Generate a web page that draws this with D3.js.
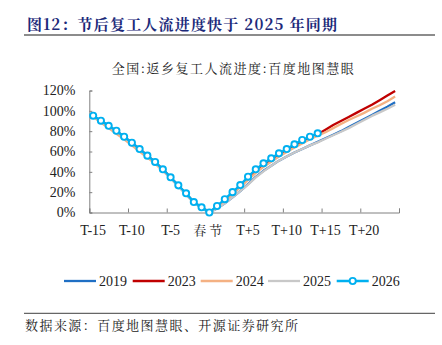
<!DOCTYPE html>
<html>
<head>
<meta charset="utf-8">
<script src="https://cdn.jsdelivr.net/npm/d3@7/dist/d3.min.js"></script>
<style>
html,body{margin:0;padding:0;background:#fff;}
svg{display:block;}
</style>
</head>
<body>
<svg id="chart" width="442" height="345"></svg>
<script>
// ---------- data ----------
const days = d3.range(-15, 25);              // T-15 ... T+24
const xTickDays = [-15, -10, -5, 0, 5, 10, 15, 20];
const xTickLabels = ["T-15", "T-10", "T-5", "春节", "T+5", "T+10", "T+15", "T+20"];
const yTicks = [0, 20, 40, 60, 80, 100, 120];
const seriesNames = ["2019", "2023", "2024", "2025", "2026"];

const s2019 = [95,90,85,79.5,74,68,62,55.5,49,42,34,26,18,10,4.5, 0,
  4,9,15,21,28,35,41,46,51,55,59,62.5,66,69.5,73,76.5,80,84,88,92,96,100,104,108.5];
const s2023 = [95,90,85,80,74.5,68.5,62.5,56,49.5,42.5,34.5,26.5,18.5,10,5, 0,
  5.5,12,19,26,33,40,46,51,56,60.5,65,69,73,77,81.5,86,90,94,98,102,106,110.5,115,119.5];
const s2024 = [94,88.5,83,77.5,72,66,60,54,48,41,34,26,18.5,10.5,5, 0,
  5,11,18,25,32,39,45,50,55,59.5,64,68,72,75.5,79,83,87,91,94.5,98,102,105.5,109.5,114];
const s2025 = [95,90,85,80,74,68,62,55.5,49,41.5,33.5,25.5,17.5,9.5,4.5, 0,
  4,9,15,21,27.5,34.5,40.5,46,51,55,59,62.5,66,69,72.5,76,79.5,83,87,91,95,98.5,102,106];
const s2026 = [95.2,90.3,85.3,80.4,74.5,68.6,62.4,55.9,49.7,42.5,34.6,26.7,18.9,10.3,5.1, 0,
  6.4,13.1,20,27,35.2,42.5,48.4,53.3,58.2,62.4,67.1,71.3,74.5,77.9];

const colors = {"2019":"#1f6fc4","2023":"#c00000","2024":"#f4b183","2025":"#c8c8c8","2026":"#00b0f0"};
const seriesData = {"2019":s2019,"2023":s2023,"2024":s2024,"2025":s2025,"2026":s2026};

// ---------- layout ----------
const svg = d3.select("#chart");
const serif = "'Liberation Serif','Times New Roman',serif";
const cjk = "'Noto Serif CJK SC','Noto Sans CJK SC',sans-serif";

const x = d3.scaleLinear().domain([-15.5, 24.5]).range([89.3, 399]);
const y = d3.scaleLinear().domain([0, 120]).range([212.5, 90.5]);

// title
svg.append("text")
  .attr("x", 27).attr("y", 30)
  .attr("textLength", 310).attr("lengthAdjust", "spacing")
  .attr("font-family", cjk).attr("font-weight", "bold")
  .attr("font-size", 15).attr("fill", "#1c2a7a")
  .text("图12：节后复工人流进度快于 2025 年同期");
svg.append("line").attr("x1", 24).attr("x2", 435).attr("y1", 35).attr("y2", 35)
  .attr("stroke", "#666").attr("stroke-width", 1.5);

// subtitle
svg.append("text")
  .attr("x", 111.7).attr("y", 73)
  .attr("textLength", 242).attr("lengthAdjust", "spacing")
  .attr("font-family", cjk).attr("font-size", 13).attr("fill", "#222")
  .text("全国:返乡复工人流进度:百度地图慧眼");

// y axis
const yAxis = svg.append("g").attr("transform", `translate(${x(-15.5)},0)`)
  .call(d3.axisLeft(y).tickValues(yTicks).tickSize(-3).tickPadding(14)
        .tickFormat(d => d + "%"));
yAxis.select(".domain").attr("stroke", "#808080");
yAxis.selectAll(".tick line").attr("stroke", "#808080");
yAxis.selectAll("text").attr("font-family", serif).attr("font-size", 14).attr("fill", "#222");

// x axis (ticks between categories, every 5 days)
const xBoundaries = d3.range(-15.5, 25, 5);
const xAxis = svg.append("g").attr("transform", `translate(0,${y(0)})`)
  .call(d3.axisBottom(x).tickValues(xBoundaries).tickSize(-4).tickFormat(""));
xAxis.select(".domain").attr("stroke", "#808080");
xAxis.selectAll(".tick line").attr("stroke", "#808080");

svg.append("g").selectAll("text").data(xTickDays).join("text")
  .attr("x", d => x(d)).attr("y", 235)
  .attr("text-anchor", "middle")
  .attr("font-family", (d, i) => xTickLabels[i] === "春节" ? cjk : serif)
  .attr("font-size", (d, i) => xTickLabels[i] === "春节" ? 13 : 14)
  .attr("letter-spacing", (d, i) => xTickLabels[i] === "春节" ? 3 : 0)
  .attr("fill", "#222")
  .text((d, i) => xTickLabels[i]);

// lines
const line = d3.line().x(d => x(d[0])).y(d => y(d[1]));
seriesNames.forEach(name => {
  const vals = seriesData[name];
  const pts = vals.map((v, i) => [days[i], v]);
  svg.append("path").datum(pts)
    .attr("fill", "none").attr("stroke", colors[name])
    .attr("stroke-width", 2.3).attr("stroke-linejoin", "round")
    .attr("d", line);
});
// markers for 2026
svg.append("g").selectAll("circle")
  .data(s2026.map((v, i) => [days[i], v])).join("circle")
  .attr("cx", d => x(d[0])).attr("cy", d => y(d[1])).attr("r", 3.1)
  .attr("fill", "#fff").attr("stroke", colors["2026"]).attr("stroke-width", 1.9);

// legend
const legendX = [64, 132.7, 200.7, 268, 336.7];
const lg = svg.append("g");
seriesNames.forEach((name, i) => {
  const lx = legendX[i];
  lg.append("line").attr("x1", lx).attr("x2", lx + 32).attr("y1", 281).attr("y2", 281)
    .attr("stroke", colors[name]).attr("stroke-width", 2.3);
  if (name === "2026") {
    lg.append("circle").attr("cx", lx + 16).attr("cy", 281).attr("r", 3.1)
      .attr("fill", "#fff").attr("stroke", colors[name]).attr("stroke-width", 1.9);
  }
  lg.append("text").attr("x", lx + 35).attr("y", 286)
    .attr("font-family", serif).attr("font-size", 14).attr("fill", "#222")
    .text(name);
});

// footer
svg.append("line").attr("x1", 24).attr("x2", 435).attr("y1", 313.3).attr("y2", 313.3)
  .attr("stroke", "#666").attr("stroke-width", 1.2);
svg.append("text")
  .attr("x", 25).attr("y", 330)
  .attr("textLength", 273).attr("lengthAdjust", "spacing")
  .attr("font-family", cjk).attr("font-size", 13).attr("fill", "#222")
  .text("数据来源：百度地图慧眼、开源证券研究所");
</script>
</body>
</html>
